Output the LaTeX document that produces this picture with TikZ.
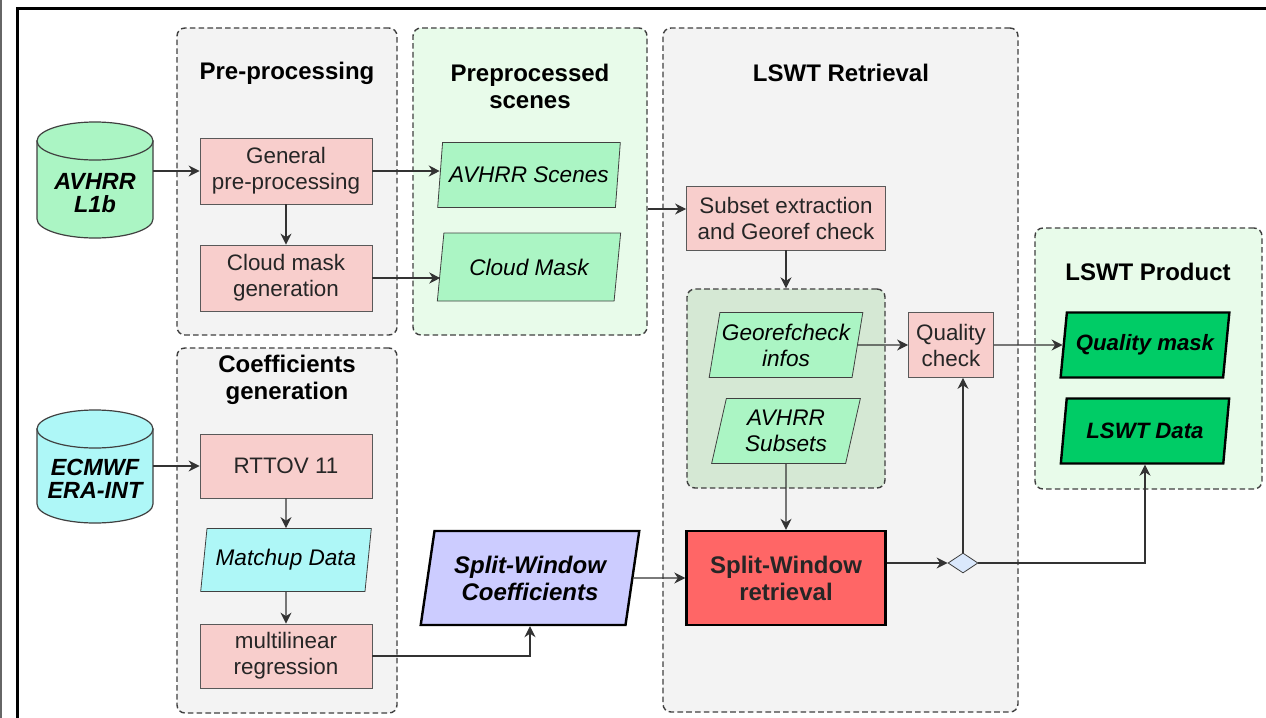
\documentclass[tikz,border=0pt]{standalone}
\usepackage{fontspec}
\setmainfont{Liberation Sans}
\usetikzlibrary{arrows.meta,positioning,shapes.geometric,calc}
\definecolor{grpgrey}{HTML}{F3F3F3}
\definecolor{grpgreen}{HTML}{E8FBEA}
\definecolor{subgreen}{HTML}{D5E8D4}
\definecolor{pinkbox}{HTML}{F8CECC}
\definecolor{lgreen}{HTML}{ABF5C4}
\definecolor{lcyan}{HTML}{AEF7F7}
\definecolor{lilac}{HTML}{CCCCFF}
\definecolor{redbox}{HTML}{FF6666}
\definecolor{dgreen}{HTML}{00CC66}
\definecolor{lblue}{HTML}{DAE8FC}

\begin{document}
\begin{tikzpicture}[x=0.5pt,y=-0.5pt,
  font=\fontsize{11.2}{13}\selectfont,
  grp/.style={draw=black!75,dash pattern=on 2.8pt off 1.6pt,line width=0.7pt,rounded corners=4pt,inner sep=0pt},
  ttl/.style={font=\fontsize{12}{13.5}\selectfont\bfseries,align=center},
  box/.style={draw=black!65,fill=pinkbox,align=center,text=black!85,inner sep=1pt},
  dat/.style={trapezium,trapezium left angle=77,trapezium right angle=103,trapezium stretches=true,
    draw=black!75,align=center,inner sep=1pt,font=\fontsize{11.3}{13}\selectfont\itshape},
  cyl/.style={draw=black!75,line width=0.6pt},
  db/.style={minimum width=58pt,inner sep=0pt,align=center,font=\fontsize{11.7}{11.5}\selectfont\bfseries\itshape},
  a/.style={draw=black!80,line width=0.6pt,-{Stealth[length=5.5pt,width=5.5pt]}}]
\useasboundingbox (0,0) rectangle (1266,718);
\fill[white] (0,0) rectangle (1266,718);
\draw[black!60,line width=1.2pt] (1,0) -- (1,718);
\draw[line width=1.5pt] (1266,8) -- (17,8) -- (17,718);

% groups
\node[grp,fill=grpgrey,minimum width=110pt,minimum height=153.5pt] (pre) at (287,181.5) {};
\node[grp,fill=grpgreen,minimum width=117pt,minimum height=153.5pt] (pscn) at (530,181.5) {};
\node[grp,fill=grpgrey,minimum width=177.5pt,minimum height=342pt] (lret) at (840.5,370) {};
\node[grp,fill=subgreen,minimum width=99pt,minimum height=99.5pt] (sub) at (786,388.5) {};
\node[grp,fill=grpgrey,minimum width=110pt,minimum height=182.5pt] (coef) at (287,530.5) {};
\node[grp,fill=grpgreen,minimum width=113.5pt,minimum height=130.5pt] (prod) at (1148.5,358.5) {};

\node[ttl] (tpre) at (287,73) {Pre-processing};
\node[ttl] (tpscn) at (530,86) {Preprocessed\\scenes};
\node[ttl] (tlret) at (841,73) {LSWT Retrieval};
\node[ttl] (tcoef) at (287,380) {Coefficients\\generation};
\node[ttl] (tprod) at (1148,272) {LSWT Product};

% inputs (cylinders)
\filldraw[cyl,fill=lgreen] (37,141) -- (37,219) arc[start angle=180,end angle=0,x radius=58,y radius=19] -- (153,141) -- cycle;
\filldraw[cyl,fill=lgreen] (95,141) ellipse[x radius=58,y radius=19];
\node[db] (avhrr) at (95,193) {AVHRR\\L1b};
\filldraw[cyl,fill=lcyan] (37,429) -- (37,504) arc[start angle=180,end angle=0,x radius=58,y radius=19] -- (153,429) -- cycle;
\filldraw[cyl,fill=lcyan] (95,429) ellipse[x radius=58,y radius=19];
\node[db] (ecmwf) at (95,479) {ECMWF\\ERA-INT};

% processing
\node[box,minimum width=86pt,minimum height=33pt] (gen) at (286,171) {General\\pre-processing};
\node[box,minimum width=86pt,minimum height=33pt] (cloudgen) at (286,278) {Cloud mask\\generation};
\node[box,minimum width=86pt,minimum height=32pt] (rttov) at (286,466) {RTTOV 11};
\node[dat,fill=lcyan,minimum width=86pt,minimum height=31.5pt] (matchup) at (286,560) {Matchup Data};
\node[box,minimum width=86pt,minimum height=32pt] (multi) at (286,656) {multilinear\\regression};

\node[dat,fill=lgreen,minimum width=92pt,minimum height=32.5pt] (scenes) at (529,175) {AVHRR Scenes};
\node[dat,fill=lgreen,minimum width=92pt,minimum height=34pt] (cmask) at (529,267) {Cloud Mask};

\node[box,minimum width=99.5pt,minimum height=32pt] (subset) at (786,218) {Subset extraction\\and Georef check};
\node[dat,fill=lgreen,minimum width=74.5pt,minimum height=32.5pt] (georef) at (786,345) {Georefcheck\\infos};
\node[dat,fill=lgreen,minimum width=74.5pt,minimum height=32.5pt] (subsets) at (786,431) {AVHRR\\Subsets};
\node[box,minimum width=42.5pt,minimum height=32.5pt] (qcheck) at (951,345) {Quality\\check};
\node[box,fill=redbox,draw=black,line width=1.2pt,minimum width=99.5pt,minimum height=47pt,
  font=\fontsize{12}{13.5}\selectfont\bfseries] (swr) at (786,578) {Split-Window\\retrieval};
\node[dat,fill=lilac,draw=black,line width=1.2pt,minimum width=109.5pt,minimum height=47pt,
  font=\fontsize{12}{13.5}\selectfont\bfseries\itshape] (swc) at (530,578) {Split-Window\\Coefficients};
\node[diamond,draw=black!75,fill=lblue,inner sep=0pt,minimum width=15pt,minimum height=10pt] (dia) at (963,563) {};

\node[dat,fill=dgreen,draw=black,line width=1.2pt,minimum width=84.5pt,minimum height=32.5pt,
  font=\fontsize{11.1}{13}\selectfont\bfseries\itshape] (qmask) at (1145,345) {Quality mask};
\node[dat,fill=dgreen,draw=black,line width=1.2pt,minimum width=84.5pt,minimum height=32.5pt,
  font=\fontsize{11.1}{13}\selectfont\bfseries\itshape] (lswtdata) at (1145,431) {LSWT Data};

% connectors
\coordinate (in5) at ($(subset.west)+(0,-9)$);
\draw[a] (avhrr.east |- gen.west) -- (gen.west);
\draw[a] (gen.east) -- (gen.east -| scenes.west);
\draw[a] (gen.south) -- (cloudgen.north);
\draw[a] (cloudgen.east) -- (cloudgen.east -| cmask.west);
\draw[a] (pscn.east |- in5) -- (in5);
\draw[a] (subset.south) -- (sub.north);
\draw[a] (georef.east) -- (qcheck.west);
\draw[a] (qcheck.east) -- (qmask.west);
\draw[a] (subsets.south) -- (swr.north);
\draw[a] (swc.east) -- (swr.west);
\draw[a] (swr.east |- dia.west) -- (dia.west);
\draw[a] (dia.north) -- (dia.north |- qcheck.south);
\draw[a] (dia.east) -| (lswtdata.south);
\draw[a] (ecmwf.east |- rttov.west) -- (rttov.west);
\draw[a] (rttov.south) -- (matchup.north);
\draw[a] (matchup.south) -- (multi.north);
\draw[a] (multi.east) -| (swc.south);
\end{tikzpicture}
\end{document}
